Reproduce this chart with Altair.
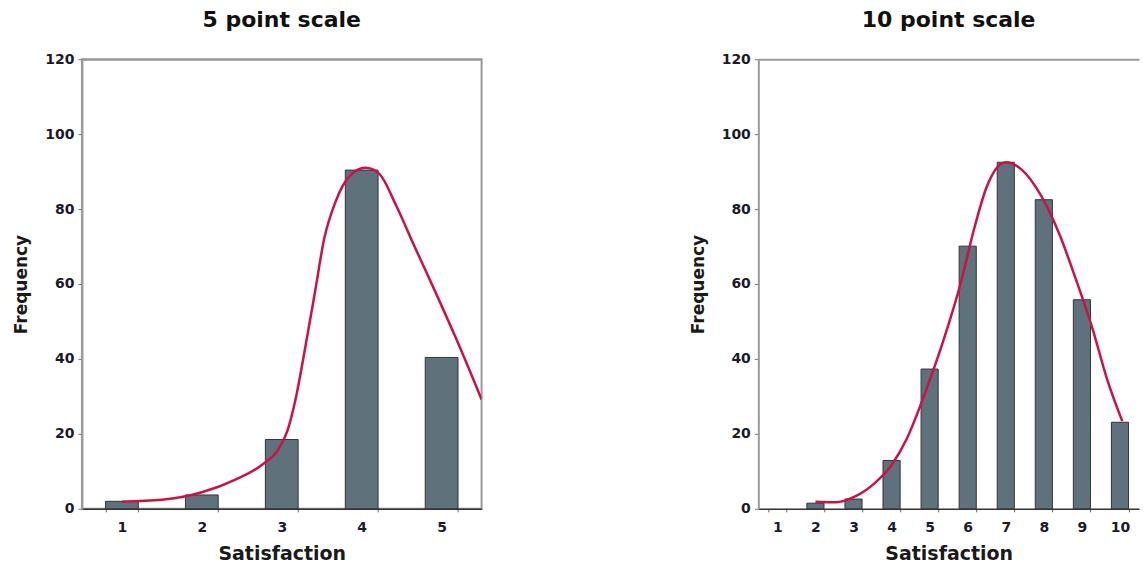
import altair as alt
import pandas as pd

# ---- data ----
left_title = "5 point scale"
left_cats = [1, 2, 3, 4, 5]
left_freq = [2, 3.7, 18.5, 90.4, 40.4]
left_curve_x = [1.0, 1.5, 2.0, 2.42, 2.75, 2.96, 3.07, 3.17, 3.30, 3.42, 3.53,
                3.67, 3.84, 4.05, 4.22, 4.43, 4.64, 4.93, 5.18, 5.5]
left_curve_y = [1.9, 2.4, 4.4, 7.8, 11.7, 16.0, 20.8, 29.0, 43.8, 58.4, 72.0,
                81.8, 88.6, 91.0, 89.4, 81.0, 71.0, 57.5, 45.5, 29.2]

right_title = "10 point scale"
right_cats = [1, 2, 3, 4, 5, 6, 7, 8, 9, 10]
right_freq = [0, 1.5, 2.6, 12.9, 37.3, 70.1, 92.5, 82.5, 55.8, 23.1]
right_curve_x = [2.0, 2.54, 3.0, 3.55, 4.0, 4.39, 4.89, 5.39, 5.82, 6.15, 6.49,
                 7.0, 7.41, 7.92, 8.42, 8.84, 9.26, 9.68, 10.06]
right_curve_y = [1.9, 1.75, 3.1, 6.8, 11.7, 18.5, 31.2, 45.8, 60.4, 74.0, 85.7,
                 92.5, 90.6, 83.7, 73.0, 61.3, 48.7, 34.0, 23.4]

y_ticks = [0, 20, 40, 60, 80, 100, 120]

FONT = "DejaVu Sans"
BAR_FILL = "#5f727c"
BAR_STROKE = "#2e3538"
CURVE = "#cc1145"
FRAME = "#9a9a9a"


def panel(cats, freq, cx, cy, title, width, pad_inner, frame_right):
    bars_df = pd.DataFrame({"Satisfaction": cats, "Frequency": freq})
    curve_df = pd.DataFrame({"x": cx, "Frequency": cy})
    n = len(cats)
    yscale = alt.Scale(domain=[0, 120], nice=False, zero=True)
    yaxis = alt.Axis(values=y_ticks, title="Frequency", grid=False,
                     tickSize=4, tickColor="#777", labelPadding=4,
                     domainColor=FRAME, domainWidth=2,
                     titlePadding=14)
    bars = alt.Chart(bars_df).mark_bar(
        fill=BAR_FILL, stroke=BAR_STROKE, strokeWidth=1
    ).encode(
        x=alt.X("Satisfaction:O",
                scale=alt.Scale(paddingInner=pad_inner, paddingOuter=pad_inner / 2),
                axis=alt.Axis(labelAngle=0, tickBand="extent", tickSize=3,
                              tickColor="#666", labelPadding=9,
                              domainColor="#333", domainWidth=1.5,
                              titlePadding=10, title="Satisfaction")),
        y=alt.Y("Frequency:Q", scale=yscale, axis=yaxis),
        strokeOpacity=alt.condition("datum.Frequency > 0", alt.value(1), alt.value(0)),
    )
    line = alt.Chart(curve_df).mark_line(
        color=CURVE, strokeWidth=2.5, interpolate="monotone", clip=True
    ).encode(
        x=alt.X("x:Q", scale=alt.Scale(domain=[0.5, n + 0.5], nice=False, zero=False),
                axis=alt.Axis(orient="top", labels=False, ticks=False, grid=False,
                              title="", domainColor=FRAME, domainWidth=2)),
        y=alt.Y("Frequency:Q", scale=yscale, axis=yaxis),
    )
    view = alt.ViewBackground(stroke=FRAME if frame_right else "transparent",
                              strokeWidth=2)
    return alt.layer(bars, line).resolve_scale(x="independent").properties(
        width=width, height=450, view=view,
        title=alt.TitleParams(title, fontSize=22, font=FONT, fontWeight="bold",
                              anchor="middle", offset=19, dy=-1, color="#111"),
    )


left = panel(left_cats, left_freq, left_curve_x, left_curve_y, left_title, 400, 0.59, True)
right = panel(right_cats, right_freq, right_curve_x, right_curve_y, right_title, 381, 0.55, False)

chart = alt.hconcat(left, right, spacing=205).properties(
    padding={"left": 3, "top": 0, "right": 0, "bottom": 0}
).configure_axis(
    labelFont=FONT, labelFontWeight="bold", labelFontSize=14, labelColor="#1a1a2a",
    titleFont=FONT, titleFontWeight="bold", titleColor="#1a1a1a",
).configure_axisY(
    titleFontSize=17
).configure_axisX(
    titleFontSize=19
)

chart.save("out.html", embed_options={"renderer": "svg", "actions": False})
